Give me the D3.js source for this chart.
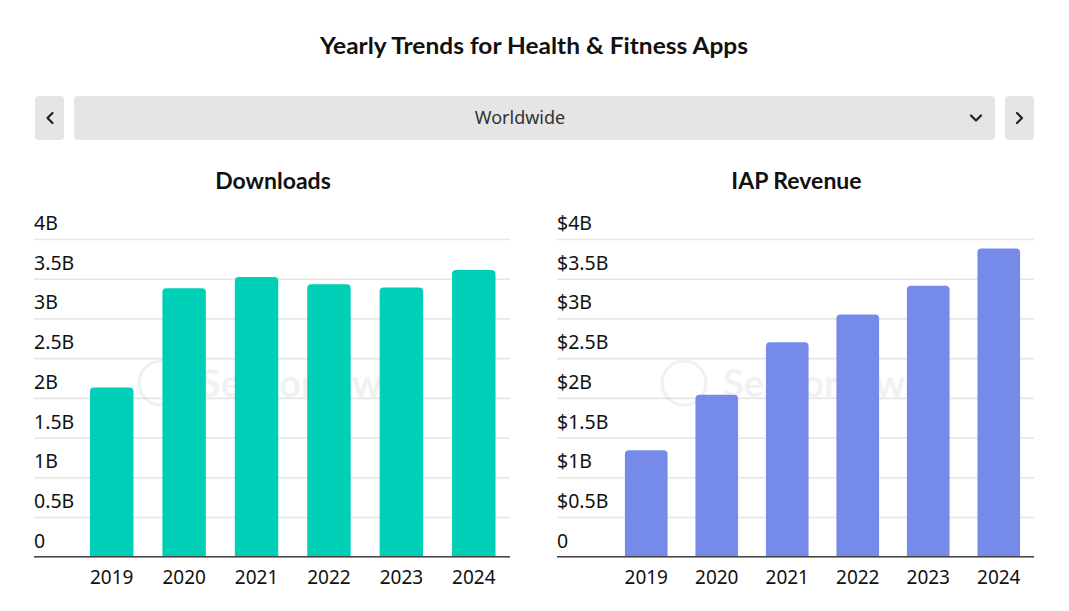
<!DOCTYPE html>
<html>
<head>
<meta charset="utf-8">
<script src="https://cdn.jsdelivr.net/npm/d3@7"></script>
<style>
  body { margin: 0; background: #fff; }
  svg { display: block; font-family: "Noto Sans", sans-serif; }
</style>
</head>
<body>
<svg id="chart"></svg>
<script>
// data (billions)
var years = ["2019", "2020", "2021", "2022", "2023", "2024"]
var downloads = [2.13, 3.38, 3.52, 3.43, 3.39, 3.61]
var revenue = [1.34, 2.04, 2.70, 3.05, 3.41, 3.88]
var yTicks = [0, 0.5, 1, 1.5, 2, 2.5, 3, 3.5, 4]

var width = 1069,
    height = 611
var svg = d3.select("#chart")
    .attr("width", width)
    .attr("height", height)

// title
svg.append("text")
    .attr("x", 534)
    .attr("y", 54)
    .attr("text-anchor", "middle")
    .attr("font-family", "Lato, sans-serif")
    .attr("font-weight", "bold")
    .attr("font-size", 22)
    .attr("textLength", 428)
    .attr("lengthAdjust", "spacingAndGlyphs")
    .attr("fill", "#111")
    .text("Yearly Trends for Health & Fitness Apps")

// region selector
var sel = svg.append("g")
sel.append("rect").attr("x", 35).attr("y", 96).attr("width", 29).attr("height", 44).attr("rx", 4).attr("fill", "#e5e5e5")
sel.append("rect").attr("x", 74).attr("y", 96).attr("width", 921).attr("height", 44).attr("rx", 4).attr("fill", "#e5e5e5")
sel.append("rect").attr("x", 1005).attr("y", 96).attr("width", 29).attr("height", 44).attr("rx", 4).attr("fill", "#e5e5e5")
sel.append("text")
    .attr("x", 520)
    .attr("y", 124)
    .attr("text-anchor", "middle")
    .attr("font-size", 18)
    .attr("fill", "#333")
    .text("Worldwide")
var chev = [
    "M52.5,113 L47.5,118 L52.5,123",
    "M1017,113 L1022,118 L1017,123",
    "M971,115.5 L976,120.5 L981,115.5"
]
sel.selectAll("path.chev")
    .data(chev)
    .enter().append("path")
    .attr("class", "chev")
    .attr("d", function (d) { return d })
    .attr("fill", "none")
    .attr("stroke", "#222")
    .attr("stroke-width", 2.2)
    .attr("stroke-linecap", "round")
    .attr("stroke-linejoin", "round")

// 圆角柱
function barPath(x, y, w, h, r) {
    r = Math.min(r, h)
    return "M" + x + "," + (y + h) +
        "V" + (y + r) +
        "Q" + x + "," + y + " " + (x + r) + "," + y +
        "H" + (x + w - r) +
        "Q" + (x + w) + "," + y + " " + (x + w) + "," + (y + r) +
        "V" + (y + h) + "Z"
}

function drawChart(opt) {
    var g = svg.append("g")
    var y = d3.scaleLinear().domain([0, 4]).range([556.7, 239])
    var x = d3.scaleBand()
        .domain(years)
        .range([opt.bandLeft, opt.right])
        .paddingInner(opt.pad)
        .paddingOuter(opt.pad / 2)

    // title
    g.append("text")
        .attr("x", (opt.left + opt.right) / 2 + 1)
        .attr("y", 189)
        .attr("text-anchor", "middle")
        .attr("font-family", "Lato, sans-serif")
        .attr("font-weight", "bold")
        .attr("font-size", 23)
        .attr("fill", "#111")
        .text(opt.title)

    // grid + y labels
    var ya = g.append("g")
        .attr("transform", "translate(" + opt.left + ",0)")
        .call(d3.axisRight(y)
            .tickValues(yTicks)
            .tickSize(opt.right - opt.left)
            .tickFormat(opt.fmt))
    ya.select(".domain").remove()
    ya.selectAll(".tick line")
        .attr("stroke", "#e6e6e6")
        .attr("stroke-width", 1.6)
    ya.selectAll(".tick text")
        .attr("x", 0)
        .attr("y", -9.5)
        .attr("dy", 0)
        .attr("text-anchor", "start")
        .attr("font-family", "Noto Sans, sans-serif")
        .attr("font-size", 19.5)
        .attr("fill", "#111")

    // watermark
    var wm = g.append("g").attr("opacity", 0.05)
    wm.append("circle")
        .attr("cx", opt.left + 127)
        .attr("cy", 383)
        .attr("r", 22)
        .attr("fill", "none")
        .attr("stroke", "#000")
        .attr("stroke-width", 3)
    wm.append("text")
        .attr("x", opt.left + 166)
        .attr("y", 397)
        .attr("font-family", "Lato, sans-serif")
        .attr("font-weight", "bold")
        .attr("font-size", 38)
        .attr("fill", "#000")
        .text("SensorTower")

    // bars
    g.append("g")
        .selectAll("path")
        .data(opt.values)
        .enter().append("path")
        .attr("d", function (d, i) {
            return barPath(x(years[i]), y(d), x.bandwidth(), y(0) - y(d), 4)
        })
        .attr("fill", opt.color)

    // baseline
    g.append("line")
        .attr("x1", opt.left)
        .attr("x2", opt.right)
        .attr("y1", y(0))
        .attr("y2", y(0))
        .attr("stroke", "#444")
        .attr("stroke-width", 1.6)

    // x labels
    var xa = g.append("g")
        .attr("transform", "translate(0," + y(0) + ")")
        .call(d3.axisBottom(x).tickSize(0))
    xa.select(".domain").remove()
    xa.selectAll(".tick text")
        .attr("y", 27.5)
        .attr("dy", 0)
        .attr("font-family", "Noto Sans, sans-serif")
        .attr("font-size", 19)
        .attr("fill", "#111")
}

drawChart({
    title: "Downloads",
    values: downloads,
    left: 34,
    bandLeft: 75.5,
    right: 510,
    pad: 0.4,
    color: "#00cfb7",
    fmt: function (d) { return d === 0 ? "0" : d + "B" }
})

drawChart({
    title: "IAP Revenue",
    values: revenue,
    left: 557,
    bandLeft: 611,
    right: 1034,
    pad: 0.395,
    color: "#768be9",
    fmt: function (d) { return d === 0 ? "0" : "$" + d + "B" }
})
</script>
</body>
</html>
